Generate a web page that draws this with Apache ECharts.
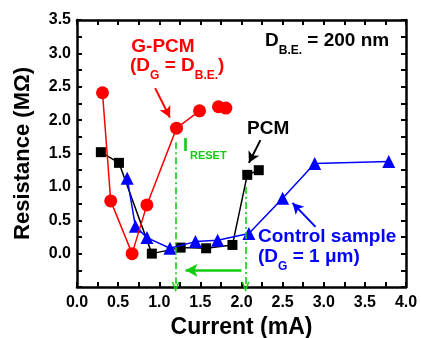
<!DOCTYPE html>
<html><head><meta charset="utf-8">
<script src="https://cdn.jsdelivr.net/npm/echarts@6/dist/echarts.min.js"></script>
<style>html,body{margin:0;padding:0;background:#fff}#c{width:421px;height:338px}</style>
</head><body><div id="c"></div>
<script>
// ---- data ----
const gpcmCurrent    = [0.31, 0.41, 0.67, 0.85, 1.21, 1.49, 1.72, 1.81];
const gpcmResistance = [2.41, 0.79, 0.00, 0.73, 1.88, 2.14, 2.20, 2.18];
const gpcmLinePoints = 6; // first six points joined by a line, last two isolated
const pcmCurrent     = [0.29, 0.51, 0.91, 1.26, 1.57, 1.89, 2.07, 2.21];
const pcmResistance  = [1.52, 1.36, 0.00, 0.09, 0.08, 0.13, 1.18, 1.25];
const ctrlCurrent    = [0.61, 0.71, 0.85, 1.13, 1.44, 1.71, 2.09, 2.50, 2.89, 3.79];
const ctrlResistance = [1.13, 0.41, 0.24, 0.08, 0.18, 0.20, 0.30, 0.83, 1.35, 1.38];
const iResetCurrent  = [1.20, 2.05];      // green dash-dot markers
const iResetTop      = [1.67, 1.00];      // where they start (MΩ)
const shiftArrow     = [[2.00, -0.25], [1.32, -0.25]];
const gpcmArrow      = [[0.95, 2.48], [1.13, 2.04]];
const pcmArrow       = [[2.23, 1.70], [2.09, 1.36]];
const ctrlArrow      = [[2.90, 0.40], [2.62, 0.76]];

const FONT = '"Liberation Sans", Arial, Helvetica, sans-serif';
const RED = '#ff0000', BLUE = '#0000ff', BLACK = '#000000', GREEN = '#11cc11';
const pairs = (xs, ys) => xs.map((x, i) => [x, ys[i]]);
const chevron = 'path://M5,0L10,10L8,10L5,4L2,10L0,10Z';

const chart = echarts.init(document.getElementById('c'), null, {renderer: 'canvas'});

function baseX(pos, showLabel) {
  return {
    type: 'value', position: pos, min: 0, max: 4, interval: 0.5,
    axisLine: {show: true, onZero: false, lineStyle: {color: BLACK, width: 2.5}},
    axisTick: {show: true, inside: true, length: 5, lineStyle: {color: BLACK, width: 2}},
    minorTick: {show: true, splitNumber: 2, length: 5, lineStyle: {color: BLACK, width: 2}},
    splitLine: {show: false}, minorSplitLine: {show: false},
    axisLabel: {show: showLabel, fontSize: 16, fontWeight: 'bold', fontFamily: FONT, color: BLACK, margin: 8,
      formatter: v => v.toFixed(1)},
    name: showLabel ? 'Current (mA)' : '', nameLocation: 'middle', nameGap: 26,
    nameTextStyle: {fontSize: 23, fontWeight: 'bold', fontFamily: FONT, color: BLACK}
  };
}
function baseY(pos, showLabel) {
  return {
    type: 'value', position: pos, min: -0.5, max: 3.5, interval: 0.5,
    axisLine: {show: true, onZero: false, lineStyle: {color: BLACK, width: 2.5}},
    axisTick: {show: true, inside: true, length: 5, lineStyle: {color: BLACK, width: 2}},
    minorTick: {show: true, splitNumber: 2, length: 5, lineStyle: {color: BLACK, width: 2}},
    splitLine: {show: false}, minorSplitLine: {show: false},
    axisLabel: {show: showLabel, fontSize: 16, fontWeight: 'bold', fontFamily: FONT, color: BLACK, margin: 6,
      formatter: v => (v < 0 ? '' : v.toFixed(1))},
    name: showLabel ? 'Resistance (MΩ)' : '', nameLocation: 'middle', nameGap: 43,
    nameTextStyle: {fontSize: 22, fontWeight: 'bold', fontFamily: FONT, color: BLACK}
  };
}

function arrowLine(pts, color, width, type, endSymbol, endSize) {
  return [
    {coord: pts[0], symbol: 'none', lineStyle: {color: color, width: width, type: type}},
    {coord: pts[1], symbol: endSymbol, symbolSize: endSize}
  ];
}

const markLines = [
  ...iResetCurrent.map((x, i) => arrowLine([[x, iResetTop[i]], [x, -0.5]], GREEN, 1.6, [7, 3, 2, 3], chevron, [8, 10])),
  arrowLine(shiftArrow, GREEN, 2.5, 'solid', 'arrow', [10, 12]),
  arrowLine(gpcmArrow, RED, 2, 'solid', 'arrow', [9, 11]),
  arrowLine(pcmArrow, BLACK, 2, 'solid', 'arrow', [9, 11]),
  arrowLine(ctrlArrow, BLUE, 2, 'solid', 'arrow', [9, 11])
];

const sub = (c) => ({fontSize: 12, fontWeight: 'bold', fontFamily: FONT, fill: c, color: c, lineHeight: 10, verticalAlign: 'bottom'});
const main = (c) => ({fontSize: 19, fontWeight: 'bold', fontFamily: FONT, fill: c, color: c, lineHeight: 26, verticalAlign: 'top'});
function plainText(x, y, text, color, size, align) {
  return {type: 'text', x: x, y: y, silent: true, z: 100,
    style: {text: text, fill: color, fontSize: size, fontWeight: 'bold', fontFamily: FONT,
      textAlign: align, textVerticalAlign: 'middle'}};
}
function richText(x, y, text, color) {
  return {type: 'text', x: x, y: y, silent: true, z: 100,
    style: {text: text, textAlign: 'left', textVerticalAlign: 'top',
      rich: {m: main(color), s: sub(color)}}};
}

chart.setOption({
  animation: false,
  backgroundColor: '#fff',
  grid: {left: 77, right: 15, top: 20, bottom: 51, containLabel: false, outerBoundsMode: 'none'},
  xAxis: [baseX('bottom', true), baseX('top', false)],
  yAxis: [baseY('left', true), baseY('right', false)],
  series: [
    {type: 'line', name: 'PCM', data: pairs(pcmCurrent, pcmResistance), symbol: 'rect', symbolSize: 10,
      lineStyle: {color: BLACK, width: 1.5}, itemStyle: {color: BLACK}, z: 2,
      markLine: {silent: true, symbol: ['none', 'arrow'], label: {show: false}, data: markLines, z: 5}},
    {type: 'line', name: 'Control', data: pairs(ctrlCurrent, ctrlResistance), symbol: 'triangle', symbolSize: 13,
      lineStyle: {color: BLUE, width: 1.5}, itemStyle: {color: BLUE}, z: 3},
    {type: 'line', name: 'G-PCM', data: pairs(gpcmCurrent, gpcmResistance).slice(0, gpcmLinePoints),
      symbol: 'circle', symbolSize: 13, lineStyle: {color: RED, width: 1.5}, itemStyle: {color: RED}, z: 4},
    {type: 'scatter', name: 'G-PCM extra', data: pairs(gpcmCurrent, gpcmResistance).slice(gpcmLinePoints),
      symbol: 'circle', symbolSize: 13, itemStyle: {color: RED, opacity: 1}, z: 4}
  ],
  graphic: [
    plainText(163, 47, 'G-PCM', RED, 19, 'center'),
    richText(130, 56, '{m|(D}{s|G}{m| = D}{s|B.E.}{m|)}', RED),
    richText(265, 31, '{m|D}{s|B.E.}{m| = 200 nm}', BLACK),
    plainText(247, 128.5, 'PCM', BLACK, 19, 'left'),
    plainText(258, 236.5, 'Control sample', BLUE, 19, 'left'),
    richText(258, 247, '{m|(D}{s|G}{m| = 1 μm)}', BLUE),
    plainText(183, 146, 'I', GREEN, 18, 'left'),
    plainText(190, 155.5, 'RESET', GREEN, 11, 'left')
  ]
});
</script></body></html>
